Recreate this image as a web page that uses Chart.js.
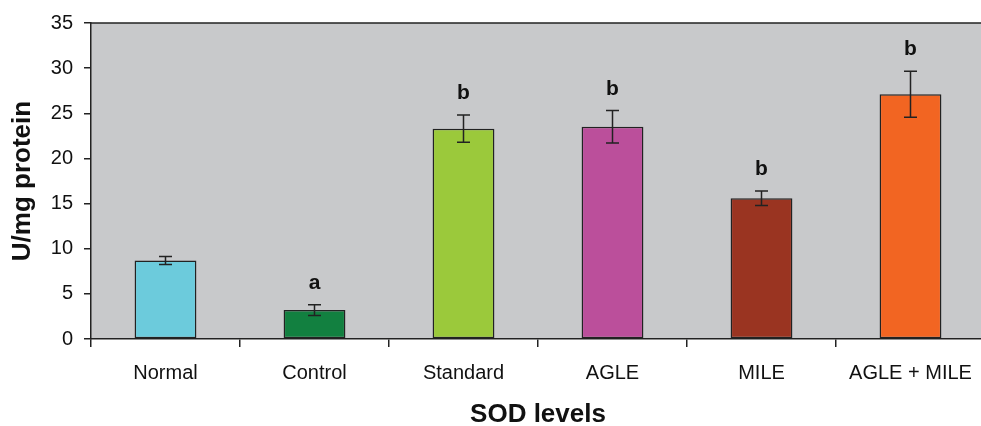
<!DOCTYPE html>
<html>
<head>
<meta charset="utf-8">
<script src="https://cdn.jsdelivr.net/npm/chart.js@4"></script>
<style>
html,body{margin:0;padding:0;background:#fff;overflow:hidden;}
#wrap{width:990px;height:426px;}
</style>
</head>
<body>
<div id="wrap"><canvas id="c" width="990" height="426"></canvas></div>
<script>
const categories = ['Normal', 'Control', 'Standard', 'AGLE', 'MILE', 'AGLE + MILE'];
const sodValues = [8.7, 3.2, 23.3, 23.5, 15.6, 27.1];
const sodErrors = [0.45, 0.6, 1.5, 1.8, 0.8, 2.55];
const sigLabels = ['', 'a', 'b', 'b', 'b', 'b'];
const barColors = ['#6ccbdc', '#128040', '#9bc93b', '#bb4f9b', '#9a3421', '#f26522'];
const yTicks = [0, 5, 10, 15, 20, 25, 30, 35];

const FONT = '"Liberation Sans", Arial, sans-serif';

const plotBg = {
  id: 'plotBg',
  beforeDraw(chart) {
    const {ctx, chartArea: a} = chart;
    ctx.save();
    ctx.fillStyle = '#c8c9cb';
    ctx.fillRect(a.left, a.top, a.right - a.left, a.bottom - a.top);
    ctx.strokeStyle = '#222';
    ctx.lineWidth = 1.5;
    ctx.beginPath();
    ctx.moveTo(a.left, a.top);
    ctx.lineTo(a.right, a.top);
    ctx.stroke();
    ctx.restore();
  }
};

const errBars = {
  id: 'errBars',
  afterDatasetsDraw(chart) {
    const {ctx} = chart;
    const ys = chart.scales.y;
    const meta = chart.getDatasetMeta(0);
    ctx.save();
    ctx.strokeStyle = '#222';
    ctx.lineWidth = 1.5;
    meta.data.forEach((bar, i) => {
      const x = bar.x;
      const yTop = ys.getPixelForValue(sodValues[i] + sodErrors[i]);
      const yBot = ys.getPixelForValue(sodValues[i] - sodErrors[i]);
      ctx.beginPath();
      ctx.moveTo(x, yTop); ctx.lineTo(x, yBot);
      ctx.moveTo(x - 6.5, yTop); ctx.lineTo(x + 6.5, yTop);
      ctx.moveTo(x - 6.5, yBot); ctx.lineTo(x + 6.5, yBot);
      ctx.stroke();
      if (sigLabels[i]) {
        ctx.fillStyle = '#111';
        ctx.font = 'bold 21px ' + FONT;
        ctx.textAlign = 'center';
        ctx.textBaseline = 'alphabetic';
        ctx.fillText(sigLabels[i], x, yTop - 16);
      }
    });
    ctx.restore();
  }
};

new Chart(document.getElementById('c'), {
  type: 'bar',
  data: {
    labels: categories,
    datasets: [{
      data: sodValues,
      backgroundColor: barColors,
      borderColor: '#222',
      borderWidth: 1.5,
      borderSkipped: false,
      categoryPercentage: 1,
      barPercentage: 0.415
    }]
  },
  options: {
    responsive: false,
    animation: false,
    devicePixelRatio: 1,
    layout: {padding: {top: 23, right: 5, bottom: 0, left: 0}},
    plugins: {legend: {display: false}, tooltip: {enabled: false}},
    scales: {
      x: {
        offset: true,
        grid: {offset: true, drawOnChartArea: false, drawTicks: true, tickLength: 8, color: '#222', lineWidth: 1.5},
        border: {display: true, color: '#222', width: 1.5},
        ticks: {color: '#111', font: {family: FONT, size: 20}, padding: 14, maxRotation: 0, autoSkip: false},
        title: {display: true, text: 'SOD levels', color: '#111', font: {family: FONT, size: 26, weight: 'bold', lineHeight: 0.88}, padding: {top: 0, bottom: 0}},
        afterFit(s) { s.height = 426 - 339; }
      },
      y: {
        min: 0, max: 35,
        afterBuildTicks(s) { s.ticks = yTicks.map(v => ({value: v})); },
        grid: {drawOnChartArea: false, drawTicks: true, tickLength: 7, color: '#222', lineWidth: 1.5},
        border: {display: true, color: '#222', width: 1.5},
        ticks: {color: '#111', font: {family: FONT, size: 20}, padding: 11},
        title: {display: true, text: 'U/mg protein', color: '#111', font: {family: FONT, size: 26, weight: 'bold', lineHeight: 1}, padding: {top: 10, bottom: 0}},
        afterFit(s) { s.width = 91; }
      }
    }
  },
  plugins: [plotBg, errBars]
});
</script>
</body>
</html>
